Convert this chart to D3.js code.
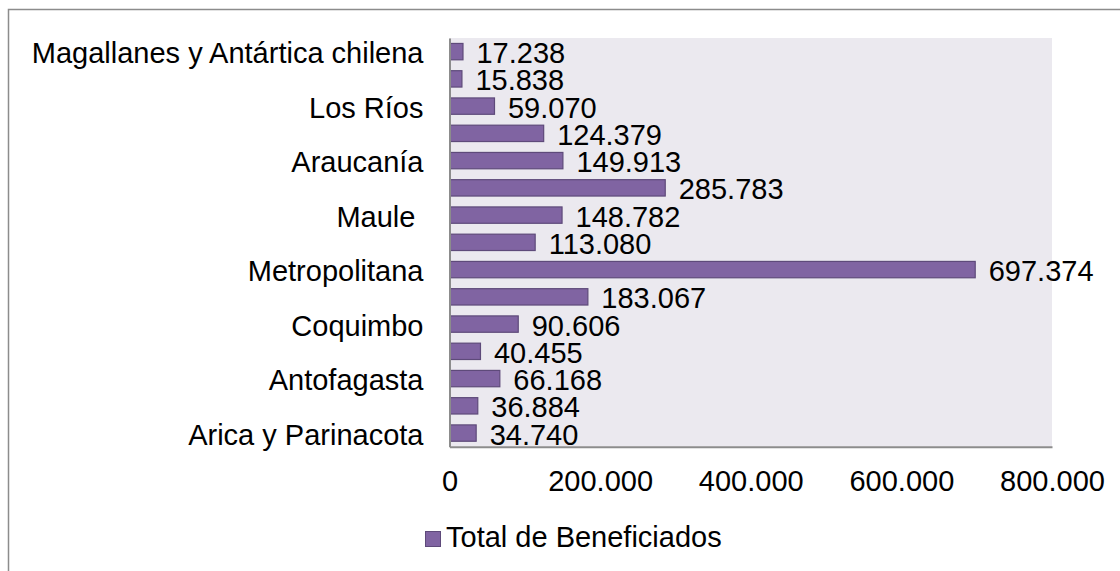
<!DOCTYPE html>
<html>
<head>
<meta charset="utf-8">
<script src="https://cdn.jsdelivr.net/npm/d3@7"></script>
<style>
  html, body { margin: 0; padding: 0; background: #fff; }
  svg { display: block; font-family: Arial, "Liberation Sans", sans-serif; }
</style>
</head>
<body>
<div id="chart"></div>
<script>
// regions from bottom (north) to top (south)
const regions = [
  "Arica y Parinacota", "Tarapacá", "Antofagasta", "Atacama", "Coquimbo",
  "Valparaíso", "Metropolitana", "O'Higgins", "Maule ", "Biobío",
  "Araucanía", "Los Lagos", "Los Ríos", "Aysén", "Magallanes y Antártica chilena"
];
const beneficiados = [
  34740, 36884, 66168, 40455, 90606,
  183067, 697374, 113080, 148782, 285783,
  149913, 124379, 59070, 15838, 17238
];
const xTicks = [0, 200000, 400000, 600000, 800000];
const seriesName = "Total de Beneficiados";

const width = 1120, height = 571;
const plot = { left: 449.5, right: 1052, top: 38, bottom: 446.7 };
const barColor = "#8064a2", barStroke = "#5e4a7a", axisColor = "#8c8c8c";

const locale = d3.formatLocale({ decimal: ",", thousands: ".", grouping: [3], currency: ["$", ""] });
const fmt = locale.format(",d");

const data = regions.map((r, i) => ({ region: r, value: beneficiados[i] }));

const svg = d3.select("#chart").append("svg")
  .attr("width", width)
  .attr("height", height)
  .attr("viewBox", [0, 0, width, height]);

// outer chart border
svg.append("rect")
  .attr("x", 8.5).attr("y", 9.5)
  .attr("width", 1200).attr("height", 700)
  .attr("fill", "#fff")
  .attr("stroke", axisColor)
  .attr("stroke-width", 1.5);

const x = d3.scaleLinear()
  .domain([0, 800000])
  .range([plot.left, plot.right]);

const y = d3.scaleBand()
  .domain(regions)
  .range([plot.bottom, plot.top])
  .paddingInner(0.4)
  .paddingOuter(0.2);

// plot background
svg.append("rect")
  .attr("x", plot.left).attr("y", plot.top)
  .attr("width", plot.right - plot.left)
  .attr("height", plot.bottom - plot.top)
  .attr("fill", "#ebe9ef");

// bars
svg.append("g")
  .selectAll("rect")
  .data(data)
  .join("rect")
    .attr("x", x(0) + 0.5)
    .attr("y", d => y(d.region))
    .attr("width", d => x(d.value) - x(0))
    .attr("height", y.bandwidth())
    .attr("fill", barColor)
    .attr("stroke", barStroke)
    .attr("stroke-width", 1.2);

// value labels
svg.append("g")
  .selectAll("text")
  .data(data)
  .join("text")
    .attr("x", d => x(d.value) + 14)
    .attr("y", d => y(d.region) + y.bandwidth() / 2)
    .attr("dy", "0.4em")
    .attr("font-size", 29)
    .attr("fill", "#000")
    .text(d => fmt(d.value));

// x-axis
svg.append("g")
  .attr("transform", `translate(0,${plot.bottom})`)
  .call(d3.axisBottom(x).tickValues(xTicks).tickFormat(fmt).tickSize(0).tickSizeOuter(0))
  .call(g => g.select(".domain").attr("stroke", axisColor).attr("stroke-width", 2))
  .call(g => g.selectAll("text")
    .attr("y", 44).attr("dy", 0)
    .attr("font-size", 29)
    .attr("font-family", "Arial, 'Liberation Sans', sans-serif")
    .attr("fill", "#000"));

// y-axis, every other label shown
svg.append("g")
  .attr("transform", `translate(${plot.left},0)`)
  .call(d3.axisLeft(y)
    .tickValues(regions.filter((d, i) => i % 2 === 0))
    .tickSize(0).tickSizeOuter(0).tickPadding(26))
  .call(g => g.select(".domain").attr("stroke", axisColor).attr("stroke-width", 2))
  .call(g => g.selectAll("text")
    .attr("dy", "0.4em")
    .attr("font-size", 29)
    .attr("font-family", "Arial, 'Liberation Sans', sans-serif")
    .attr("fill", "#000")
    .style("white-space", "pre"));

// legend
const legend = svg.append("g").attr("transform", "translate(425,531)");
legend.append("rect")
  .attr("x", 0.5).attr("y", 0.5)
  .attr("width", 15).attr("height", 15)
  .attr("fill", barColor)
  .attr("stroke", barStroke)
  .attr("stroke-width", 1);
legend.append("text")
  .attr("x", 21)
  .attr("y", 15.5)
  .attr("font-size", 29)
  .attr("fill", "#000")
  .text(seriesName);
</script>
</body>
</html>
